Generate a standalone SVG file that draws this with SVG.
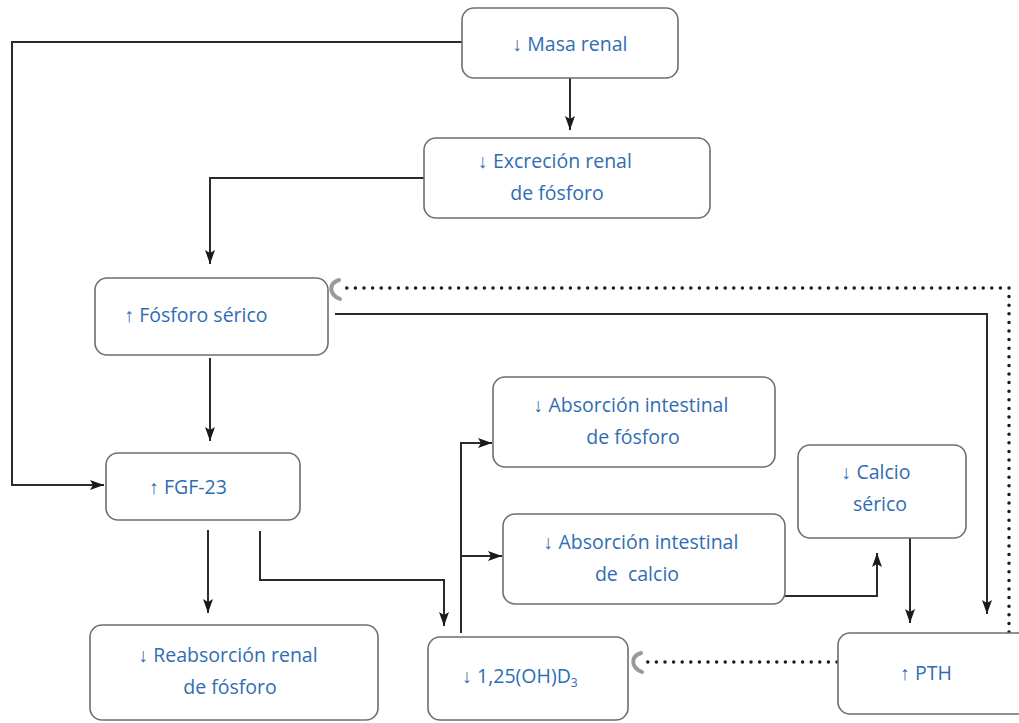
<svg xmlns="http://www.w3.org/2000/svg" width="1019" height="723" viewBox="0 0 1019 723">
<style>
.box{fill:#fff;stroke:#6e6e6e;stroke-width:1.6}
.t{font-family:"Open Sans","Noto Sans",sans-serif;font-size:19.5px;fill:#2f6db3;text-anchor:middle}
.ln{fill:none;stroke:#2b2b2b;stroke-width:2}
.dot{fill:none;stroke:#1a1a1a;stroke-width:3.5;stroke-linecap:round;stroke-dasharray:0 8.6}
.inh{fill:none;stroke:#9a9a9a;stroke-width:4;stroke-linecap:round}
</style>
<defs>
<marker id="ar" viewBox="0 0 14 10" refX="14" refY="5" markerWidth="14" markerHeight="10" markerUnits="userSpaceOnUse" orient="auto">
<path d="M0,0 L14,5 L0,10 L3,5 Z" fill="#1a1a1a"/>
</marker>
</defs>
<rect width="1019" height="723" fill="#fff"/>
<g id="connectors">
<path class="ln" d="M462,42 H12 V485 H104" marker-end="url(#ar)"/>
<path class="ln" d="M570,78 V130" marker-end="url(#ar)"/>
<path class="ln" d="M424,178 H210 V264" marker-end="url(#ar)"/>
<path class="ln" d="M335,314 H987 V614" marker-end="url(#ar)"/>
<path class="ln" d="M210,358 V441" marker-end="url(#ar)"/>
<path class="ln" d="M208,530 V613" marker-end="url(#ar)"/>
<path class="ln" d="M260,531 V580 H444 V626" marker-end="url(#ar)"/>
<path class="ln" d="M461,633 V443 H492" marker-end="url(#ar)"/>
<path class="ln" d="M461,556 H502" marker-end="url(#ar)"/>
<path class="ln" d="M785,596 H877 V553" marker-end="url(#ar)"/>
<path class="ln" d="M910,538 V623" marker-end="url(#ar)"/>
<path class="dot" d="M1009,632 V288 H345"/>
<path class="inh" d="M339,280 C329,283 328,294 340,299"/>
<path class="dot" d="M837,662 H647"/>
<path class="inh" d="M641,653 C631,656 630,667 642,672"/>
</g>
<g id="masa-renal">
<rect class="box" x="462" y="8" width="216" height="70" rx="12"/>
<text class="t" x="570" y="51">↓ Masa renal</text>
</g>
<g id="excrecion">
<rect class="box" x="424" y="138" width="286" height="80" rx="12"/>
<text class="t" x="555" y="168">↓ Excreción renal</text>
<text class="t" x="557" y="200">de fósforo</text>
</g>
<g id="fosforo-serico">
<rect class="box" x="95" y="278" width="233" height="77" rx="12"/>
<text class="t" x="196" y="322">↑ Fósforo sérico</text>
</g>
<g id="fgf23">
<rect class="box" x="106" y="453" width="194" height="67" rx="12"/>
<text class="t" x="188" y="494">↑ FGF-23</text>
</g>
<g id="reabsorcion">
<rect class="box" x="90" y="625" width="288" height="95" rx="12"/>
<text class="t" x="228" y="662">↓ Reabsorción renal</text>
<text class="t" x="230" y="694">de fósforo</text>
</g>
<g id="abs-fosforo">
<rect class="box" x="493" y="377" width="282" height="90" rx="12"/>
<text class="t" x="631" y="412">↓ Absorción intestinal</text>
<text class="t" x="633" y="444">de fósforo</text>
</g>
<g id="abs-calcio">
<rect class="box" x="503" y="514" width="282" height="90" rx="12"/>
<text class="t" x="641" y="549">↓ Absorción intestinal</text>
<text class="t" x="637" y="581" xml:space="preserve">de  calcio</text>
</g>
<g id="calcio-serico">
<rect class="box" x="798" y="445" width="168" height="93" rx="12"/>
<text class="t" x="876" y="479">↓ Calcio</text>
<text class="t" x="880" y="511">sérico</text>
</g>
<g id="calcitriol">
<rect class="box" x="428" y="637" width="200" height="83" rx="12"/>
<text class="t" x="520" y="683">↓ 1,25(OH)D<tspan font-size="12" dy="4">3</tspan></text>
</g>
<g id="pth">
<rect class="box" x="838" y="633" width="200" height="81" rx="12"/>
<text class="t" x="926" y="680">↑ PTH</text>
</g>
</svg>
